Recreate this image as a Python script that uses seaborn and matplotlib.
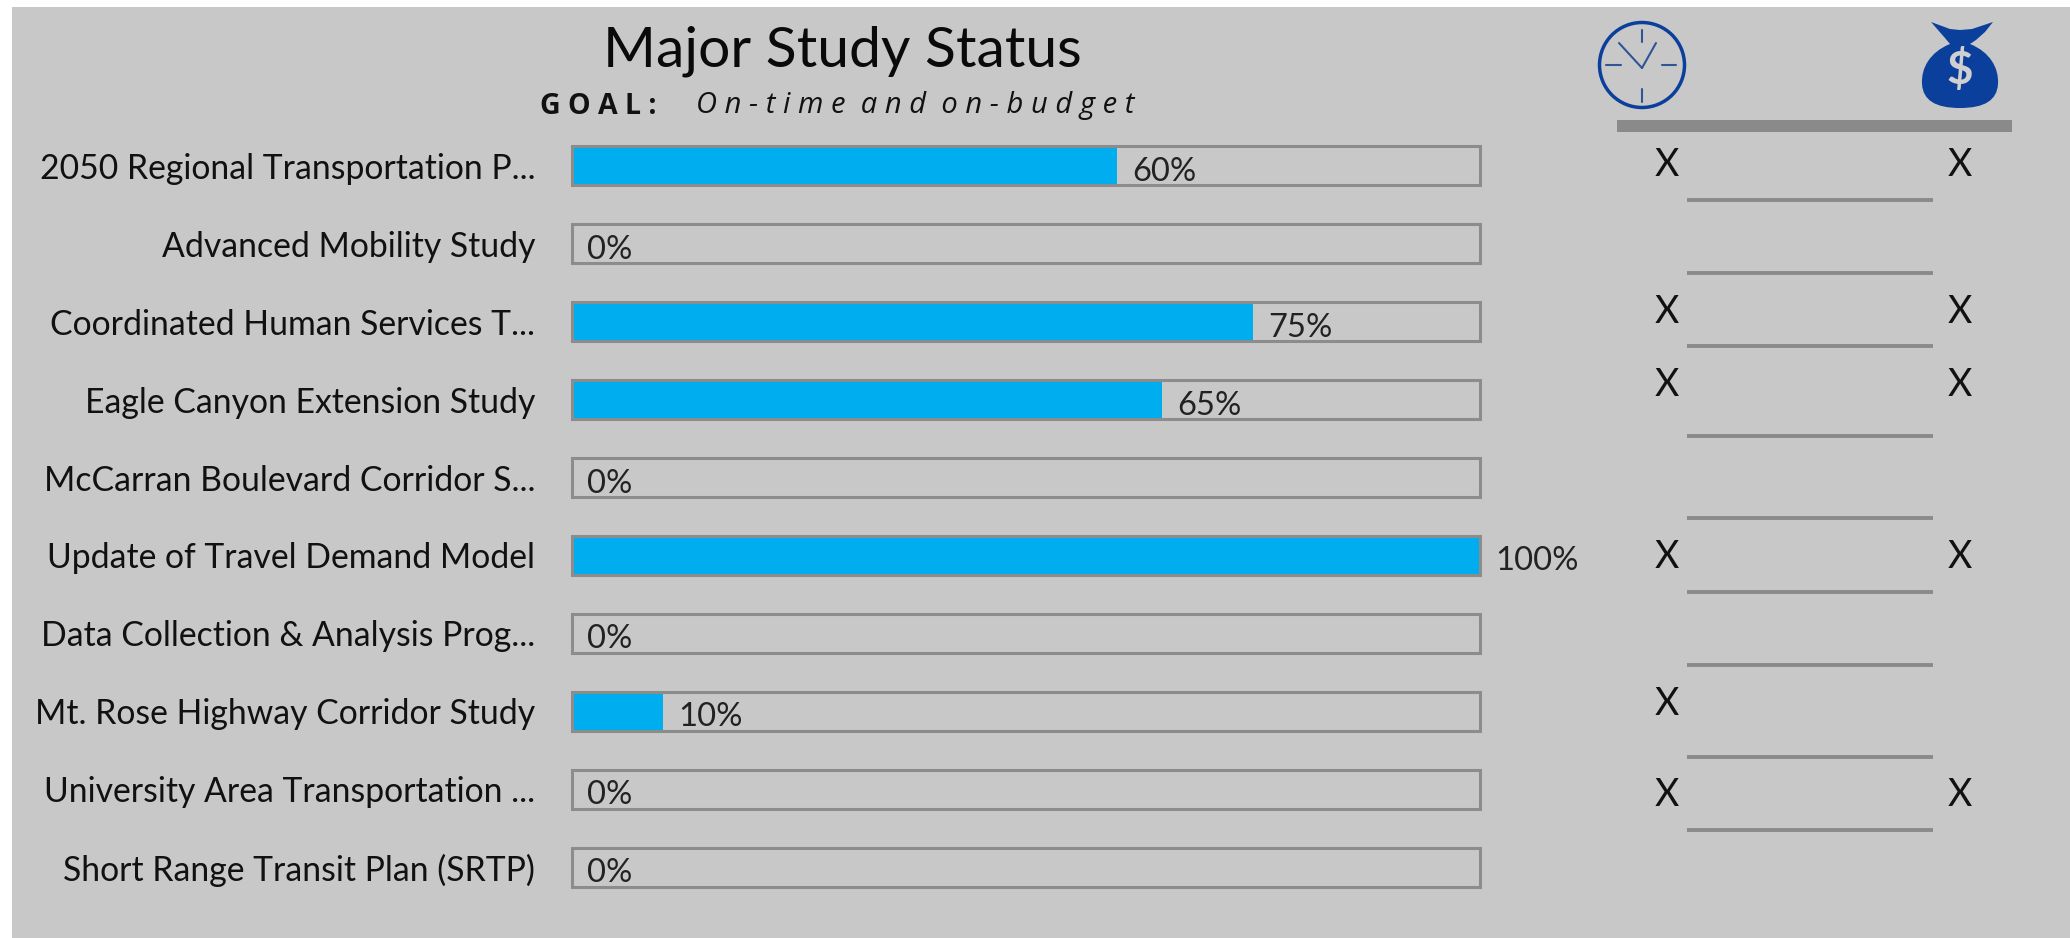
import matplotlib
matplotlib.use("Agg")
import matplotlib.pyplot as plt
from matplotlib.patches import Rectangle, Circle, PathPatch
from matplotlib.path import Path
import pandas as pd
import seaborn as sns

W, H = 2070, 938

studies = ["2050 Regional Transportation P...", "Advanced Mobility Study",
           "Coordinated Human Services T...", "Eagle Canyon Extension Study",
           "McCarran Boulevard Corridor S...", "Update of Travel Demand Model",
           "Data Collection & Analysis Prog...", "Mt. Rose Highway Corridor Study",
           "University Area Transportation ...", "Short Range Transit Plan (SRTP)"]
percent = [60, 0, 75, 65, 0, 100, 0, 10, 0, 0]
full_scale = [100] * len(studies)
on_time = ["X", "", "X", "X", "", "X", "", "X", "X", ""]
on_budget = ["X", "", "X", "X", "", "X", "", "", "X", ""]
title = "Major Study Status"
goal_label = "GOAL:"
goal_text = "On-time and on-budget"

GRAY = "#c8c8c8"
sns.set_theme(style="white", rc={"figure.facecolor": "white", "axes.facecolor": GRAY})
plt.rcParams["font.family"] = ["Lato", "DejaVu Sans"]

fig = plt.figure(figsize=(W / 100, H / 100), dpi=100, facecolor="white")
fig.patches.append(Rectangle((12 / W, 0), 1 - 12 / W, 1 - 7 / H, transform=fig.transFigure,
                             facecolor=GRAY, edgecolor="none", zorder=-5))

top, bottom = 127, 906
ax = fig.add_axes([572 / W, 1 - bottom / H, (1480 - 572) / W, (bottom - top) / H])
ax.patch.set_alpha(0)
df = pd.DataFrame({"study": studies, "pct": percent, "full": full_scale})
sns.barplot(data=df, y="study", x="pct", ax=ax, color="#00adef", width=0.5,
            edgecolor="none", saturation=1, orient="h")
sns.barplot(data=df, y="study", x="full", ax=ax, color="#8c8c8c", width=0.5,
            fill=False, linewidth=2.2, saturation=1, orient="h")
ax.set_xlim(0, 100)
ax.set_ylim(9.5, -0.5)
ax.set_xlabel("")
ax.set_ylabel("")
ax.set_xticks([])
sns.despine(ax=ax, left=True, bottom=True)
ax.tick_params(axis="y", length=0, pad=26.5, labelsize=24.3, labelcolor="#111111")
for patch in ax.patches:
    patch.set_clip_on(False)

for i, p in enumerate(percent):
    ax.annotate(f"{p}%", (p, i), xytext=(15, -6), textcoords="offset pixels",
                va="center", ha="left", fontsize=23.6, color="#222222", annotation_clip=False)

fig.text(842 / W, 1 - 51 / H, title, ha="center", va="center", fontsize=41, color="#0a0a0a")
fig.text(540 / W, 1 - 106 / H, " ".join(goal_label), ha="left", va="center", fontsize=20.5,
         color="#111111", family="Open Sans", fontweight="bold")
fig.text(696 / W, 1 - 106 / H, " ".join(goal_text).replace("   ", "  "), ha="left", va="center",
         fontsize=21, color="#111111", family="Open Sans", style="italic")

# Right-hand status columns, in pixel coordinates of the figure
over = fig.add_axes([0, 0, 1, 1], facecolor="none")
over.set_xlim(0, W)
over.set_ylim(H, 0)
over.axis("off")
over.add_patch(Rectangle((1617, 120), 395, 12, facecolor="#8a8a8a", edgecolor="none"))
LINE_Y = [200, 273, 346, 436, 518, 592, 665, 757, 830]
for y in LINE_Y:
    over.plot([1687, 1933], [y, y], color="#8a8a8a", lw=2.8, solid_capstyle="butt")
MARK_Y = {0: 165, 2: 312, 3: 385, 5: 557, 7: 704, 8: 795}
for i in range(len(studies)):
    if on_time[i]:
        over.text(1667, MARK_Y[i], on_time[i], ha="center", va="center", fontsize=27, color="#111111")
    if on_budget[i]:
        over.text(1960, MARK_Y[i], on_budget[i], ha="center", va="center", fontsize=27, color="#111111")

# Clock icon
BLUE = "#0b3f9c"
cx, cy = 1642, 65
over.add_patch(Circle((cx, cy), 42.5, facecolor="none", edgecolor=BLUE, lw=2.5))
for x0, y0, x1, y1 in [(cx, cy - 35, cx, cy - 23), (cx, cy + 24, cx, cy + 37),
                       (cx - 36, cy, cx - 21, cy), (cx + 20, cy, cx + 34, cy),
                       (cx - 23, cy - 22, cx, cy + 3), (cx, cy + 3, cx + 14, cy - 22)]:
    over.plot([x0, x1], [y0, y1], color="#2f5596", lw=1.5)

# Money bag icon
bag_vertices = [(1931, 22), (1950, 29), (1960, 30), (1972, 29), (1993, 22),
                (1985, 32), (1976, 40), (1970, 44),
                (1990, 52), (1999, 68), (1998, 84),
                (1997, 100), (1985, 108), (1960, 108),
                (1935, 108), (1923, 100), (1922, 84),
                (1921, 68), (1930, 52), (1950, 44),
                (1945, 38), (1938, 30), (1931, 22), (1931, 22)]
bag_codes = [Path.MOVETO, Path.LINETO, Path.LINETO, Path.LINETO, Path.LINETO,
             Path.LINETO, Path.LINETO, Path.LINETO,
             Path.CURVE4, Path.CURVE4, Path.CURVE4,
             Path.CURVE4, Path.CURVE4, Path.CURVE4,
             Path.CURVE4, Path.CURVE4, Path.CURVE4,
             Path.CURVE4, Path.CURVE4, Path.CURVE4,
             Path.LINETO, Path.LINETO, Path.LINETO, Path.CLOSEPOLY]
over.add_patch(PathPatch(Path(bag_vertices, bag_codes), facecolor=BLUE, edgecolor="none"))
over.text(1960, 70, "$", ha="center", va="center", fontsize=33, color="#d0d0d0", fontweight="bold")

fig.savefig("out.png", dpi=100, facecolor="white")
